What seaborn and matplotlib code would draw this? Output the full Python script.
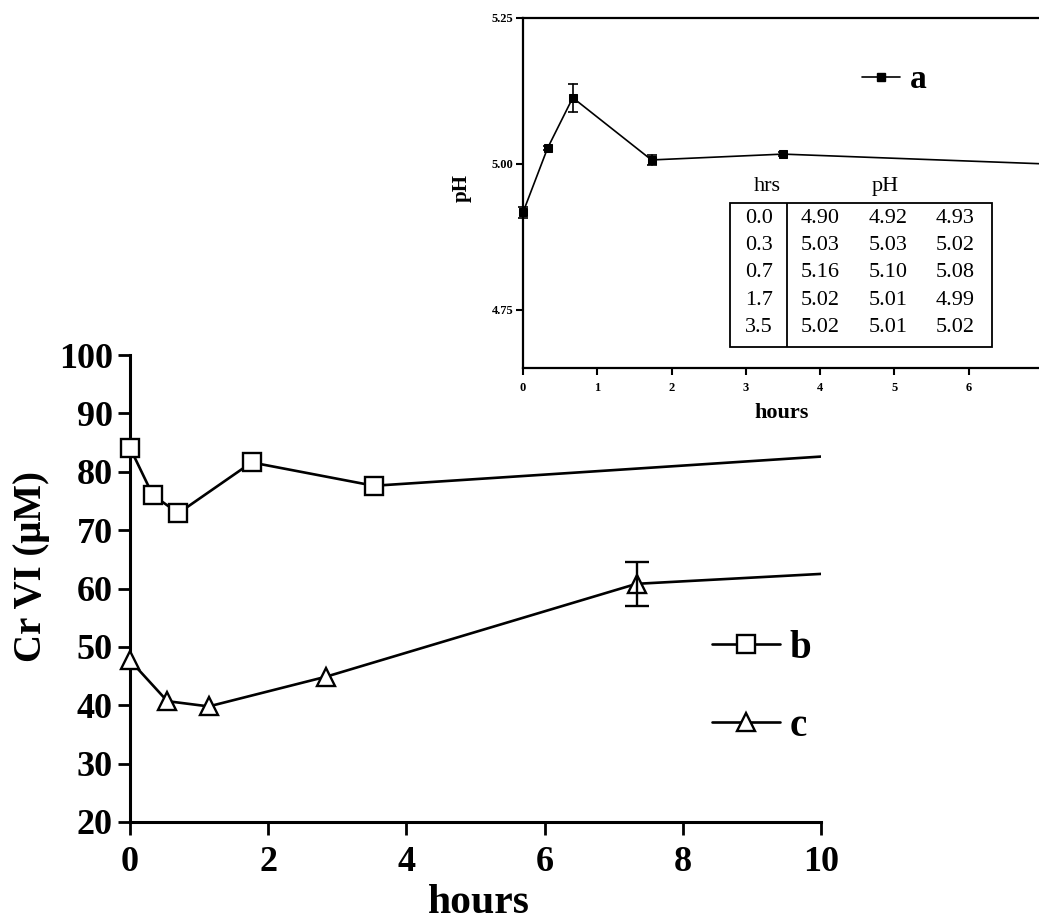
import numpy as np
import pandas as pd
import matplotlib
matplotlib.use("Agg")
import matplotlib.pyplot as plt
from matplotlib.lines import Line2D
from matplotlib.patches import Rectangle
import seaborn as sns

# ---------------- data ----------------
# main panel: Cr VI (uM) vs hours
b_hours = [0.0, 0.33, 0.70, 1.76, 3.53]
b_values = [84.1, 76.0, 72.9, 81.6, 77.6]
b_tail_hours = [3.53, 10.0]
b_tail_values = [77.6, 82.6]

c_hours = [0.0, 0.54, 1.14, 2.84, 7.33]
c_values = [47.7, 40.7, 39.8, 44.9, 60.8]
c_err = [0.0, 0.0, 0.0, 0.0, 3.75]
c_tail_hours = [7.33, 10.0]
c_tail_values = [60.8, 62.5]

main_xticks = [0, 2, 4, 6, 8, 10]
main_yticks = [20, 30, 40, 50, 60, 70, 80, 90, 100]

# inset: pH vs hours (triplicates from the table)
ph_table_hrs = ["0.0", "0.3", "0.7", "1.7", "3.5"]
ph_hours = [0.0, 0.33, 0.67, 1.73, 3.5]
ph_rep1 = [4.90, 5.03, 5.16, 5.02, 5.02]
ph_rep2 = [4.92, 5.03, 5.10, 5.01, 5.01]
ph_rep3 = [4.93, 5.02, 5.08, 4.99, 5.02]
ph_tail_hours = [3.5, 7.0]
ph_tail_end = 5.00
inset_xticks = [0, 1, 2, 3, 4, 5, 6]
inset_yticks = [4.75, 5.00, 5.25]

# ---------------- style ----------------
sns.set_style("ticks")
plt.rcParams["font.family"] = ["Liberation Serif", "DejaVu Serif"]
plt.rcParams["text.color"] = "black"
plt.rcParams["axes.labelcolor"] = "black"
plt.rcParams["xtick.color"] = "black"
plt.rcParams["ytick.color"] = "black"

W, H = 1039, 923
fig = plt.figure(figsize=(W / 100, H / 100), dpi=100)
fig.patch.set_facecolor("white")

def fx(px):
    return px / W

def fy(py):
    return 1 - py / H

# ---------------- main axes ----------------
ax = fig.add_axes([fx(130), fy(822), fx(821) - fx(130), (822 - 355) / H])
ax.set_facecolor("none")

df_b = pd.DataFrame({"hours": b_hours, "cr": b_values})
df_c = pd.DataFrame({"hours": c_hours, "cr": c_values})

mk = dict(markersize=13, markerfacecolor="white", markeredgecolor="black",
          markeredgewidth=1.7)
sns.lineplot(x=b_tail_hours, y=b_tail_values, ax=ax, color="black", lw=1.9)
sns.lineplot(x=c_tail_hours, y=c_tail_values, ax=ax, color="black", lw=1.9)
sns.lineplot(data=df_b, x="hours", y="cr", ax=ax, color="black", lw=1.9,
             marker="s", zorder=3, clip_on=False, **mk)
sns.lineplot(data=df_c, x="hours", y="cr", ax=ax, color="black", lw=1.9,
             marker="^", zorder=3, clip_on=False, **mk)
err_idx = [i for i, e in enumerate(c_err) if e > 0]
ax.errorbar([c_hours[i] for i in err_idx], [c_values[i] for i in err_idx],
            yerr=[c_err[i] for i in err_idx], fmt="none", ecolor="black",
            elinewidth=1.7, capsize=8.5, capthick=1.7, zorder=4)

ax.set_xlim(0, 10)
ax.set_ylim(20, 100)
ax.set_xticks(main_xticks)
ax.set_yticks(main_yticks)
sns.despine(ax=ax)
for s in ["left", "bottom"]:
    ax.spines[s].set_linewidth(2.2)
    ax.spines[s].set_color("black")
ax.tick_params(axis="both", direction="out", length=9, width=2.0,
               color="black", labelsize=26, labelcolor="black")
ax.tick_params(axis="y", pad=3.5)
ax.tick_params(axis="x", pad=8.5)
for lab in ax.get_xticklabels() + ax.get_yticklabels():
    lab.set_fontweight("bold")

ax.set_xlabel("hours", fontsize=30, fontweight="bold", color="black")
ax.set_ylabel("Cr VI (\u03bcM)", fontsize=28, fontweight="bold", color="black")
ax.xaxis.set_label_coords((479 - 130) / 691, -(884 - 822) / 467)
ax.yaxis.set_label_coords(-(130 - 50) / 691, (822 - 567) / 467)

h_b = Line2D([], [], color="black", lw=1.9, marker="s", **mk)
h_c = Line2D([], [], color="black", lw=1.9, marker="^", **mk)
leg = ax.legend([h_b, h_c], ["b", "c"], loc="upper left",
                bbox_to_anchor=(fx(712), fy(630)),
                bbox_transform=fig.transFigure,
                frameon=False, borderaxespad=0, borderpad=0,
                handlelength=1.75, handletextpad=0.25, labelspacing=1.05,
                prop=dict(weight="bold", size=28))
for t in leg.get_texts():
    t.set_color("black")

# ---------------- inset axes ----------------
axi = fig.add_axes([fx(523), fy(368), (1043 - 523) / W, (368 - 18) / H])
axi.set_facecolor("none")

ph_df = pd.DataFrame({
    "hours": np.repeat(ph_hours, 3),
    "pH": np.column_stack([ph_rep1, ph_rep2, ph_rep3]).ravel(),
})
ph_mean_last = float(np.mean([ph_rep1[-1], ph_rep2[-1], ph_rep3[-1]]))
sns.lineplot(x=ph_tail_hours, y=[ph_mean_last, ph_tail_end], ax=axi,
             color="black", lw=1.2)
sns.lineplot(data=ph_df, x="hours", y="pH", ax=axi, color="black", lw=1.2,
             marker="s", markersize=5.5, markeredgecolor="black",
             markerfacecolor="black", errorbar="se", err_style="bars",
             err_kws=dict(capsize=3.6, elinewidth=1.2, capthick=1.2,
                          clip_on=False),
             zorder=3, clip_on=False)

axi.set_xlim(0, 7)
axi.set_ylim(4.65, 5.25)
axi.set_xticks(inset_xticks)
axi.set_yticks(inset_yticks)
axi.set_yticklabels([f"{v:.2f}" for v in inset_yticks])
for s in ["left", "bottom", "top"]:
    axi.spines[s].set_linewidth(1.6)
    axi.spines[s].set_color("black")
axi.spines["right"].set_visible(False)
axi.tick_params(axis="both", direction="out", length=5, width=1.5,
                color="black", labelsize=9, labelcolor="black", pad=2)
axi.tick_params(axis="x", pad=5)
for lab in axi.get_xticklabels() + axi.get_yticklabels():
    lab.set_fontweight("bold")
axi.set_xlabel("hours", fontsize=16, fontweight="bold", color="black")
axi.set_ylabel("pH", fontsize=15, fontweight="bold", color="black")
axi.xaxis.set_label_coords((782 - 523) / 520, -(403 - 368) / 350)
axi.yaxis.set_label_coords(-(523 - 472) / 520, (368 - 188) / 350)

h_a = Line2D([], [], color="black", lw=1.2, marker="s", markersize=5.5)
leg_a = axi.legend([h_a], ["a"], loc="center left",
                   bbox_to_anchor=(fx(862), fy(80)),
                   bbox_transform=fig.transFigure,
                   frameon=False, borderaxespad=0, borderpad=0,
                   handlelength=1.15, handletextpad=0.3,
                   prop=dict(weight="bold", size=24))
for t in leg_a.get_texts():
    t.set_color("black")

# table inside the inset (data coordinates of the inset)
box_x0, box_x1, box_y0, box_y1 = 2.79, 6.32, 4.686, 4.933
axi.add_patch(Rectangle((box_x0, box_y0), box_x1 - box_x0, box_y1 - box_y0,
                        fill=False, lw=1.3, edgecolor="black", zorder=2))
axi.vlines(3.56, box_y0, box_y1, color="black", lw=1.3)
tfont = dict(fontsize=16, color="black", ha="center", va="center")
axi.text(3.29, 4.962, "hrs", **tfont)
axi.text(4.87, 4.962, "pH", **tfont)
row_y = [4.907, 4.860, 4.813, 4.766, 4.720]
col_x = [3.18, 4.00, 4.91, 5.82]
for i in range(len(ph_table_hrs)):
    axi.text(col_x[0], row_y[i], ph_table_hrs[i], **tfont)
    for j, rep in enumerate([ph_rep1, ph_rep2, ph_rep3]):
        axi.text(col_x[j + 1], row_y[i], f"{rep[i]:.2f}", **tfont)

fig.savefig("out.png", dpi=100, facecolor="white")
